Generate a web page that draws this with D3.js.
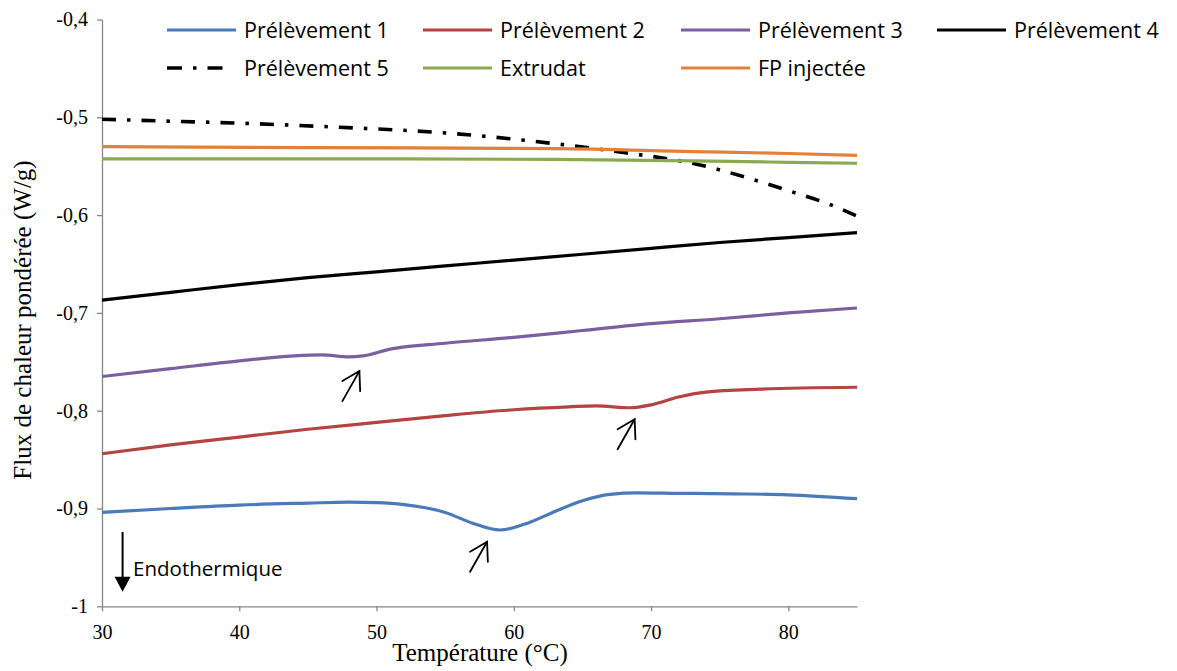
<!DOCTYPE html>
<html>
<head>
<meta charset="utf-8">
<script src="https://cdn.jsdelivr.net/npm/d3@7"></script>
<style>
  html, body { margin: 0; padding: 0; background: #fff; }
  svg { display: block; }
</style>
</head>
<body>
<svg id="chart" width="1177" height="671"></svg>
<script>
// ---------- data ----------
const seriesNames = ["Prélèvement 1", "Prélèvement 2", "Prélèvement 3", "Prélèvement 4",
                     "Prélèvement 5", "Extrudat", "FP injectée"];

const p1T = [30, 35, 40, 45, 48, 50, 52, 55, 57, 59, 61, 63, 65, 67, 69, 72, 76, 80, 85];
const p1V = [-0.904, -0.900, -0.8965, -0.8945, -0.8935, -0.894, -0.896, -0.904, -0.915, -0.922, -0.915, -0.903, -0.892, -0.8855, -0.884, -0.8845, -0.885, -0.886, -0.890];

const p2T = [30, 35, 40, 45, 50, 55, 60, 64, 66, 68.5, 70, 72, 74, 78, 85];
const p2V = [-0.844, -0.835, -0.827, -0.819, -0.812, -0.805, -0.799, -0.796, -0.795, -0.797, -0.794, -0.786, -0.781, -0.778, -0.776];

const p3T = [30, 35, 40, 44, 46, 48, 49, 51, 55, 60, 65, 70, 75, 80, 85];
const p3V = [-0.765, -0.757, -0.749, -0.744, -0.743, -0.745, -0.744, -0.737, -0.731, -0.725, -0.718, -0.711, -0.706, -0.700, -0.695];

const p4T = [30, 35, 40, 45, 50, 55, 60, 65, 70, 75, 80, 85];
const p4V = [-0.687, -0.679, -0.671, -0.664, -0.658, -0.652, -0.646, -0.640, -0.634, -0.628, -0.623, -0.618];

const p5T = [30, 35, 40, 47, 55, 63, 68, 73, 78, 80, 83, 85];
const p5V = [-0.502, -0.504, -0.506, -0.510, -0.516, -0.527, -0.536, -0.547, -0.566, -0.575, -0.589, -0.601];

const extT = [30, 45, 63, 73, 80, 85];
const extV = [-0.5425, -0.5425, -0.543, -0.5445, -0.546, -0.547];

const fpT = [30, 45, 63, 73, 80, 85];
const fpV = [-0.530, -0.531, -0.532, -0.535, -0.537, -0.539];

const xTicks = [30, 40, 50, 60, 70, 80];
const yTicks = [-1, -0.9, -0.8, -0.7, -0.6, -0.5, -0.4];

// annotation arrow tips (data coords)
const arrowTipT = [48.75, 68.8, 58.05];
const arrowTipV = [-0.7595, -0.8088, -0.934];
const endoT = 31.5, endoTop = -0.924, endoTip = -0.985;

// ---------- styling ----------
const colors = ["#4A7AB8", "#B4443F", "#7C5FA0", "#000000", "#000000", "#8BAA4F", "#E2823A"];
const dashes = [null, null, null, null, "14,11,3.5,11", null, null];

const svg = d3.select("#chart");
const margin = { left: 102, right: 1177 - 857, top: 19.5, bottom: 671 - 606.3 };
const x = d3.scaleLinear().domain([30, 85]).range([102, 857]);
const y = d3.scaleLinear().domain([-1, -0.4]).range([606.3, 19.5]);

svg.append("rect").attr("width", 1177).attr("height", 671).attr("fill", "#fff");

const fmt = v => String(+v.toFixed(1)).replace(".", ",");
const axisColor = "#868686";

// y axis
const yAxis = svg.append("g").attr("transform", `translate(${x(30)},0)`)
  .call(d3.axisLeft(y).tickValues(yTicks).tickFormat(fmt).tickSize(5).tickSizeOuter(0).tickPadding(9));
yAxis.select(".domain").attr("stroke", axisColor).attr("stroke-width", 1.3);
yAxis.selectAll(".tick line").attr("stroke", axisColor).attr("stroke-width", 1.3);
yAxis.selectAll(".tick text").attr("font-family", "Liberation Serif, Times New Roman, serif")
  .attr("font-size", 20).attr("fill", "#000").attr("dy", "0.32em");

// x axis
const xAxis = svg.append("g").attr("transform", `translate(0,${y(-1)})`)
  .call(d3.axisBottom(x).tickValues(xTicks).tickFormat(d3.format("d")).tickSize(5).tickSizeOuter(0).tickPadding(14));
xAxis.select(".domain").attr("stroke", axisColor).attr("stroke-width", 1.3);
xAxis.selectAll(".tick line").attr("stroke", axisColor).attr("stroke-width", 1.3);
xAxis.selectAll(".tick text").attr("font-family", "Liberation Serif, Times New Roman, serif")
  .attr("font-size", 20).attr("fill", "#000");

// axis titles
svg.append("text").attr("x", 480).attr("y", 661).attr("text-anchor", "middle")
  .attr("font-family", "Liberation Serif, Times New Roman, serif").attr("font-size", 25)
  .text("Température (°C)");
svg.append("text").attr("transform", "translate(31,320) rotate(-90)").attr("text-anchor", "middle")
  .attr("font-family", "Liberation Serif, Times New Roman, serif").attr("font-size", 25)
  .text("Flux de chaleur pondérée (W/g)");

// series
const allT = [p1T, p2T, p3T, p4T, p5T, extT, fpT];
const allV = [p1V, p2V, p3V, p4V, p5V, extV, fpV];
const line = d3.line().x(d => x(d[0])).y(d => y(d[1])).curve(d3.curveMonotoneX);

seriesNames.forEach((name, i) => {
  const pts = allT[i].map((t, k) => [t, allV[i][k]]);
  const p = svg.append("path").datum(pts).attr("d", line)
    .attr("fill", "none").attr("stroke", colors[i])
    .attr("stroke-width", i === 4 ? 3.6 : 3.2)
    .attr("stroke-linejoin", "round");
  if (dashes[i]) p.attr("stroke-dasharray", dashes[i]);
});

// legend
const legCols = [167, 423, 681, 937];
const legRows = [30, 68];
const legFont = "Open Sans, Noto Sans, sans-serif";
seriesNames.forEach((name, i) => {
  const col = i % 4, row = Math.floor(i / 4);
  const lx = legCols[col], ly = legRows[row];
  const len = i === 4 ? 56 : 69;
  const l = svg.append("line").attr("x1", lx).attr("x2", lx + len).attr("y1", ly).attr("y2", ly)
    .attr("stroke", colors[i]).attr("stroke-width", i === 4 ? 3.6 : 3.2);
  if (i === 4) l.attr("stroke-dasharray", "15,11,3.5,11");
  svg.append("text").attr("x", lx + 77).attr("y", ly).attr("dy", "0.36em")
    .attr("font-family", legFont).attr("font-size", 21.5).attr("fill", "#000").text(name);
});

// small annotation arrows
arrowTipT.forEach((t, i) => {
  const tx = x(t), ty = y(arrowTipV[i]);
  const g = svg.append("g").attr("stroke", "#000").attr("stroke-width", 1.8).attr("fill", "none")
    .attr("stroke-linecap", "round");
  g.append("line").attr("x1", tx - 17).attr("y1", ty + 30).attr("x2", tx).attr("y2", ty);
  g.append("polyline").attr("points", `${tx - 17},${ty + 10} ${tx},${ty} ${tx + 0.8},${ty + 20}`);
});

// Endothermique arrow
const ex = x(endoT);
svg.append("line").attr("x1", ex).attr("x2", ex).attr("y1", y(endoTop)).attr("y2", y(endoTip) - 12)
  .attr("stroke", "#000").attr("stroke-width", 2);
svg.append("path")
  .attr("d", `M${ex - 8},${y(endoTip) - 15} L${ex + 8},${y(endoTip) - 15} L${ex},${y(endoTip)} Z`)
  .attr("fill", "#000");
svg.append("text").attr("x", ex + 10.5).attr("y", 576).attr("font-family", legFont)
  .attr("font-size", 20.5).attr("fill", "#000").text("Endothermique");
</script>
</body>
</html>
